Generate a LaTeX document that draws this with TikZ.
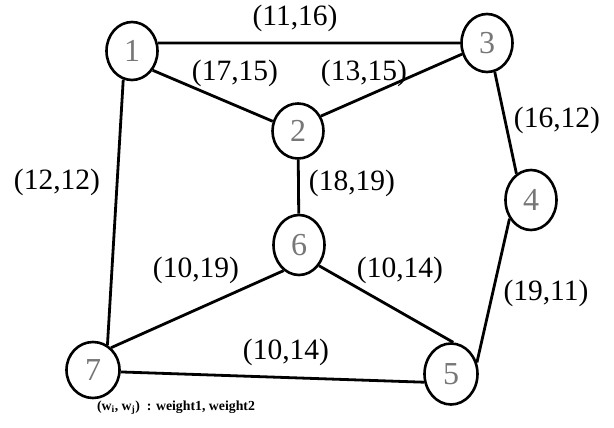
\documentclass[tikz,border=0pt]{standalone}
\usepackage{fontspec}
\setmainfont{Liberation Serif}
\usetikzlibrary{shapes.geometric}
\definecolor{numgray}{HTML}{777777}
\tikzset{
  vert/.style={draw=black, line width=2.6pt, ellipse, inner sep=0pt, minimum width=51pt, minimum height=58pt, text=numgray, font=\fontsize{32}{32}\selectfont},
  edge/.style={line width=2.8pt, black},
  wlabel/.style={inner sep=0pt, font=\fontsize{29.5}{30}\selectfont}
}
\begin{document}
\begin{tikzpicture}[x=1pt,y=-1pt]
\useasboundingbox[fill=white] (0,0) rectangle (614,428);
\node[vert] (n1) at (132,51) {1};
\node[vert] (n3) at (487,43) {3};
\node[vert, minimum height=55pt] (n2) at (298,131) {2};
\node[vert, minimum height=60pt] (n4) at (531,200) {4};
\node[vert, minimum height=60pt] (n6) at (299,245) {6};
\node[vert, minimum height=61pt, minimum width=53pt] (n5) at (451,374) {5};
\node[vert, minimum height=56pt, minimum width=53pt] (n7) at (93,370) {7};
\draw[edge] (n1.17) -- (n3.180);
\draw[edge] (n1.-43) -- (n2.159);
\draw[edge] (n3.204) -- (n2.33);
\draw[edge] (n2) -- (n6);
\draw[edge] (n3.-75) -- (n4.119);
\draw[edge] (n4.221) -- (n5.24);
\draw[edge] (n6.-46) -- (n5.86);
\draw[edge] (n6.239) -- (n7.51);
\draw[edge] (n7.-4) -- (n5.197);
\draw[edge] (n1.-107) -- (n7.60);
\node[wlabel] (l13) at (295,18) {(11,16)};
\node[wlabel] (l12) at (235,73) {(17,15)};
\node[wlabel] (l32) at (364,73) {(13,15)};
\node[wlabel] (l34) at (557,120) {(16,12)};
\node[wlabel] (l17) at (57,182) {(12,12)};
\node[wlabel] (l26) at (352,183) {(18,19)};
\node[wlabel] (l67) at (196,270) {(10,19)};
\node[wlabel] (l65) at (400,270) {(10,14)};
\node[wlabel] (l45) at (546,293) {(19,11)};
\node[wlabel] (l75) at (286,352) {(10,14)};
\node[inner sep=0pt, font=\fontsize{13.8}{14}\selectfont\bfseries] (legend) at (176,408) {(w\textsubscript{i}, w\textsubscript{j})~~: weight1, weight2};
\end{tikzpicture}
\end{document}
